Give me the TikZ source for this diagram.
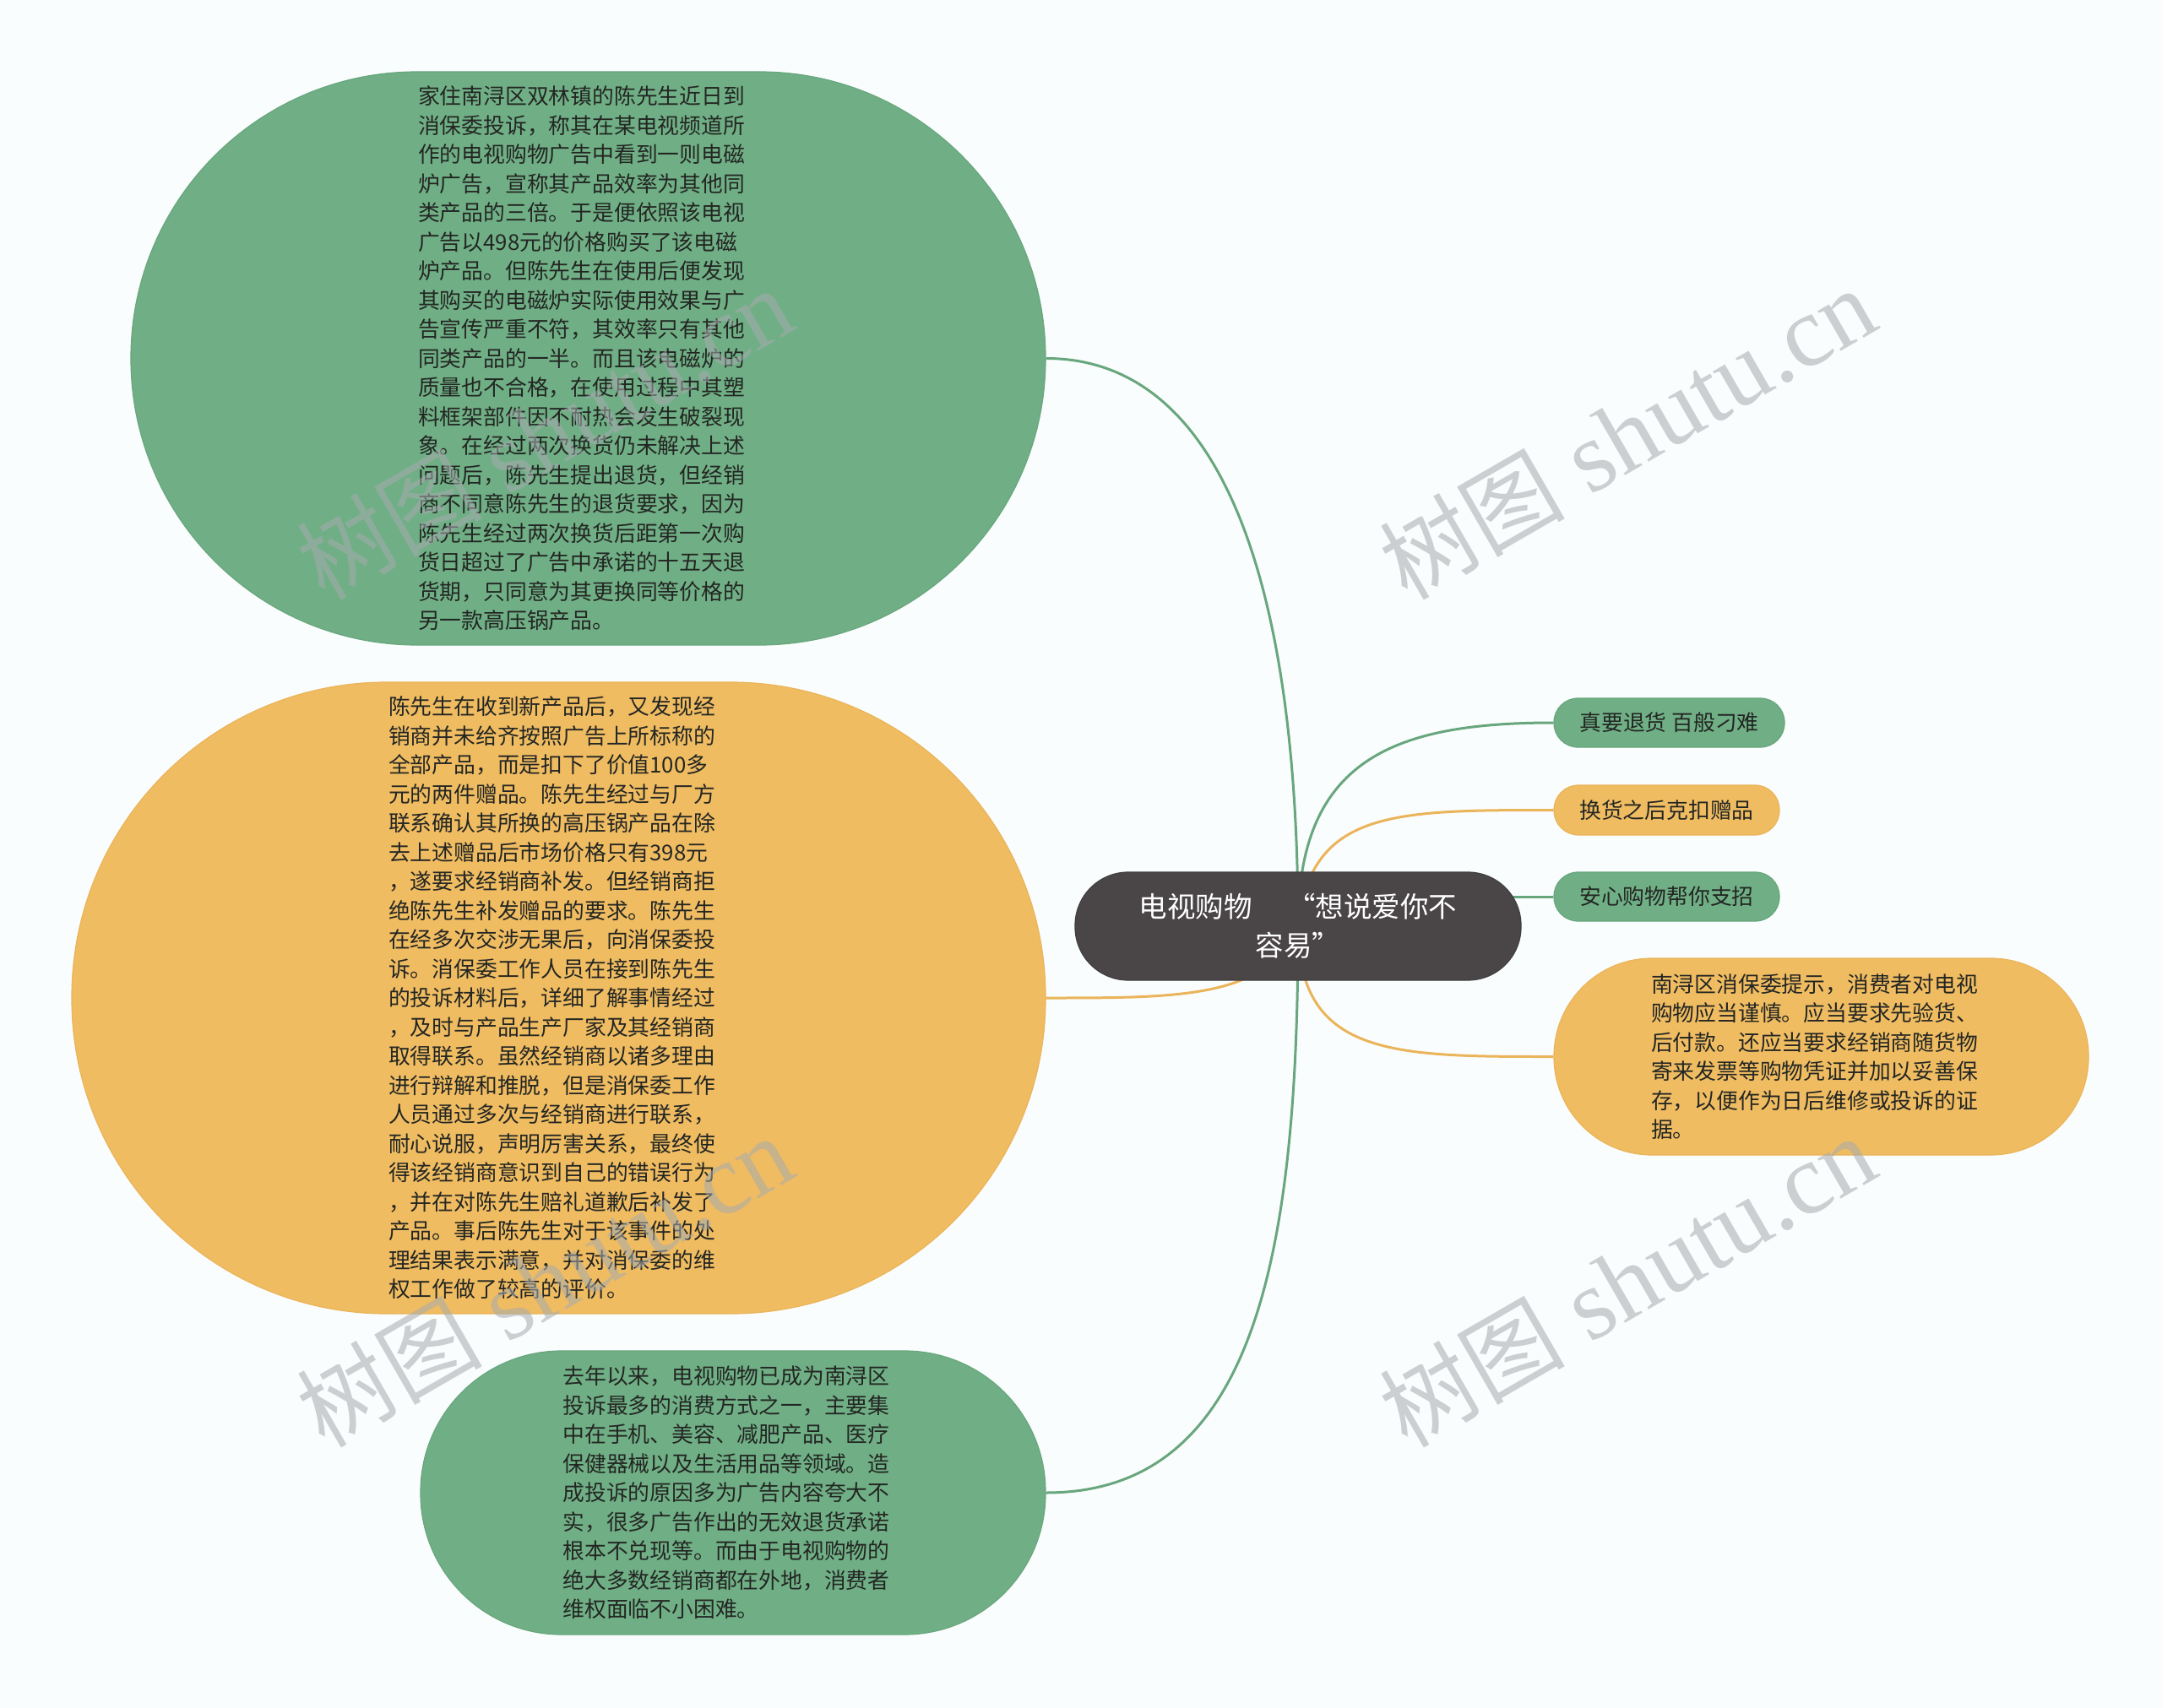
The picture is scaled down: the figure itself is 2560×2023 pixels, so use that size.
\documentclass[tikz,border=0pt]{standalone}
\usepackage{fontspec}
\newfontfamily\cjk{Noto Sans CJK SC}
\newfontfamily\wmserif{Liberation Serif}
\usetikzlibrary{calc}
\definecolor{bgc}{RGB}{250,253,253}
\definecolor{gfill}{RGB}{112,175,133}
\definecolor{gdraw}{RGB}{104,166,125}
\definecolor{ofill}{RGB}{240,188,98}
\definecolor{odraw}{RGB}{234,180,90}
\definecolor{dfill}{RGB}{74,69,70}
\definecolor{txt}{RGB}{35,38,35}
\definecolor{wmc}{RGB}{165,170,174}
\pgfdeclarelayer{bglayer}
\pgfdeclarelayer{edgelayer}
\pgfsetlayers{bglayer,edgelayer,main}
\newcommand{\padr}{\hspace*{16pt}}
\newcommand{\wmtext}{{\cjk\fontsize{110pt}{110pt}\selectfont 树图}{\wmserif\fontsize{119pt}{119pt}\selectfont\ shutu.cn}}
\begin{document}
\begin{tikzpicture}[x=1pt,y=-1pt,
  txtfont/.style={font=\cjk\fontsize{25.8pt}{34.5pt}\selectfont},
  gbox/.style={draw=gdraw, fill=gfill, line width=1.2pt, inner sep=0pt, align=left, text=txt, txtfont},
  obox/.style={draw=odraw, fill=ofill, line width=1.2pt, inner sep=0pt, align=left, text=txt, txtfont},
  gline/.style={draw=gdraw, line width=3pt},
  oline/.style={draw=odraw, line width=3pt},
  wm/.style={text=wmc, opacity=0.55, rotate=30, inner sep=0pt},
]
\path[use as bounding box] (0,0) rectangle (2560,2023);
\begin{pgfonlayer}{bglayer}
\fill[bgc] (0,0) rectangle (2560,2023);
\end{pgfonlayer}

% central node
\node[fill=dfill, draw=black!75, line width=1.2pt, rounded corners=63pt, minimum width=528pt, minimum height=128pt, inner sep=0pt, align=center, text=white, font=\cjk\fontsize{33.5pt}{46pt}\selectfont] (c) at (1537,1097) {电视购物\hspace{42pt}“想说爱你不\\容易”};

% left nodes
\node[gbox, rounded corners=339pt, minimum width=1083pt, minimum height=679pt] (g1) at (696.5,424.5) {家住南浔区双林镇的陈先生近日到\padr\\消保委投诉，称其在某电视频道所\\作的电视购物广告中看到一则电磁\\炉广告，宣称其产品效率为其他同\\类产品的三倍。于是便依照该电视\\广告以498元的价格购买了该电磁\\炉产品。但陈先生在使用后便发现\\其购买的电磁炉实际使用效果与广\\告宣传严重不符，其效率只有其他\\同类产品的一半。而且该电磁炉的\\质量也不合格，在使用过程中其塑\\料框架部件因不耐热会发生破裂现\\象。在经过两次换货仍未解决上述\\问题后，陈先生提出退货，但经销\\商不同意陈先生的退货要求，因为\\陈先生经过两次换货后距第一次购\\货日超过了广告中承诺的十五天退\\货期，只同意为其更换同等价格的\\另一款高压锅产品。};

\node[obox, rounded corners=373pt, minimum width=1153pt, minimum height=748pt] (o1) at (661.5,1182) {陈先生在收到新产品后，又发现经\padr\\销商并未给齐按照广告上所标称的\\全部产品，而是扣下了价值100多\\元的两件赠品。陈先生经过与厂方\\联系确认其所换的高压锅产品在除\\去上述赠品后市场价格只有398元\\，遂要求经销商补发。但经销商拒\\绝陈先生补发赠品的要求。陈先生\\在经多次交涉无果后，向消保委投\\诉。消保委工作人员在接到陈先生\\的投诉材料后，详细了解事情经过\\，及时与产品生产厂家及其经销商\\取得联系。虽然经销商以诸多理由\\进行辩解和推脱，但是消保委工作\\人员通过多次与经销商进行联系，\\耐心说服，声明厉害关系，最终使\\得该经销商意识到自己的错误行为\\，并在对陈先生赔礼道歉后补发了\\产品。事后陈先生对于该事件的处\\理结果表示满意，并对消保委的维\\权工作做了较高的评价。};

\node[gbox, rounded corners=167pt, minimum width=740pt, minimum height=336pt] (g3) at (868,1768) {去年以来，电视购物已成为南浔区\padr\\投诉最多的消费方式之一，主要集\\中在手机、美容、减肥产品、医疗\\保健器械以及生活用品等领域。造\\成投诉的原因多为广告内容夸大不\\实，很多广告作出的无效退货承诺\\根本不兑现等。而由于电视购物的\\绝大多数经销商都在外地，消费者\\维权面临不小困难。};

% right nodes
\node[gbox, rounded corners=28.5pt, minimum width=273pt, minimum height=58pt] (n1) at (1976.5,856) {真要退货 百般刁难};
\node[obox, rounded corners=29pt, minimum width=267pt, minimum height=59pt] (n2) at (1973.5,959.5) {换货之后克扣赠品};
\node[gbox, rounded corners=28.5pt, minimum width=267pt, minimum height=58pt] (n3) at (1973.5,1062) {安心购物帮你支招};
\node[obox, rounded corners=116pt, minimum width=633pt, minimum height=233pt] (n4) at (2156.5,1251.5) {南浔区消保委提示，消费者对电视\padr\\购物应当谨慎。应当要求先验货、\\后付款。还应当要求经销商随货物\\寄来发票等购物凭证并加以妥善保\\存，以便作为日后维修或投诉的证\\据。};

% connectors
\begin{pgfonlayer}{edgelayer}
\draw[gline] (c.center) .. controls ($(c.center)+(0,-397)$) and ($(g1.east)+(212,0)$) .. (g1.east);
\draw[oline] (c.center) .. controls ($(c.center)+(-37,85)$) and ($(o1.east)+(162,0)$) .. (o1.east);
\draw[gline] (c.center) .. controls ($(c.center)+(0,403)$) and ($(g3.east)+(242,0)$) .. (g3.east);
\draw[gline] (c.center) .. controls ($(c.center)+(0,-197)$) and ($(n1.west)+(-190,0)$) .. (n1.west);
\draw[oline] (c.center) .. controls ($(c.center)+(15,-137.5)$) and ($(n2.west)+(-190,0)$) .. (n2.west);
\draw[gline] (c.center |- n3.west) -- (n3.west);
\draw[oline] (c.center) .. controls ($(c.center)+(0,154.5)$) and ($(n4.west)+(-190,0)$) .. (n4.west);
\end{pgfonlayer}

% watermarks
\node[wm] (w1) at (645,514) {\wmtext};
\node[wm] (w2) at (1927,514) {\wmtext};
\node[wm] (w3) at (645,1518) {\wmtext};
\node[wm] (w4) at (1927,1518) {\wmtext};
\end{tikzpicture}
\end{document}
